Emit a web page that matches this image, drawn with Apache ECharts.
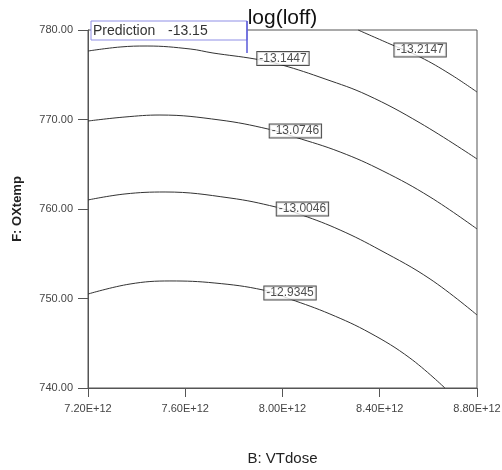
<!DOCTYPE html>
<html>
<head>
<meta charset="utf-8">
<script src="https://cdn.jsdelivr.net/npm/echarts@6/dist/echarts.min.js"></script>
<style>html,body{margin:0;padding:0;background:#fff}#c{width:502px;height:470px}</style>
</head>
<body>
<div id="c"></div>
<script>
// ---- data (x in units of 1E+12) ----
const xTicks = [7.2, 7.6, 8.0, 8.4, 8.8];
const yTicks = [740, 750, 760, 770, 780];
const contourLevels = ['-12.9345', '-13.0046', '-13.0746', '-13.1447', '-13.2147'];
const contour_12_9345 = [[7.200,750.50],[7.373,751.62],[7.537,751.96],[7.722,751.73],[7.920,750.95],[8.031,749.94],[8.195,748.27],[8.360,746.15],[8.524,743.35],[8.668,740.00]];
const contour_13_0046 = [[7.200,761.01],[7.352,761.68],[7.517,761.90],[7.784,761.23],[7.973,760.22],[8.080,759.33],[8.237,757.65],[8.401,755.42],[8.607,752.18],[8.800,748.16]];
const contour_13_0746 = [[7.200,769.83],[7.352,770.28],[7.496,770.50],[7.743,769.94],[7.940,768.94],[8.051,768.04],[8.237,766.37],[8.413,764.25],[8.607,761.34],[8.800,757.77]];
const contour_13_1447 = [[7.200,777.65],[7.332,778.10],[7.443,778.21],[7.620,777.88],[7.714,777.43],[7.887,776.76],[7.998,776.09],[8.175,774.53],[8.348,772.74],[8.566,769.61],[8.800,765.59]];
const contour_13_2147 = [[8.311,780.00],[8.442,778.44],[8.566,776.98],[8.689,775.08],[8.800,773.07]];
const contourLabelAt = [[8.031,750.61],[8.082,760.00],[8.053,768.71],[8.002,776.81],[8.566,777.76]];
const predictionValue = -13.15;
const predictionPoint = [7.854, 777.43];

const contours = [contour_12_9345, contour_13_0046, contour_13_0746, contour_13_1447, contour_13_2147];
const FF = '"Liberation Sans", Arial, sans-serif';

const chart = echarts.init(document.getElementById('c'), null, {renderer: 'canvas'});
const series = contours.map((d, i) => ({
  type: 'line', data: d, smooth: 0.4, symbol: 'none', silent: true,
  lineStyle: {color: '#333', width: 1}, z: 2
}));
series.push({
  type: 'scatter', symbolSize: 0.1, silent: true, z: 5,
  data: contourLabelAt.map((p, i) => ({value: p, name: contourLevels[i]})),
  itemStyle: {color: 'rgba(0,0,0,0)'},
  label: {
    show: true, position: 'inside', formatter: p => p.name,
    fontFamily: FF, fontSize: 12, color: '#222',
    backgroundColor: '#fff', borderColor: '#222', borderWidth: 1,
    padding: [1, 2, 0, 2], lineHeight: 12
  }
});

chart.setOption({
  animation: false,
  backgroundColor: '#fff',
  grid: {left: 88, right: 25, top: 30, bottom: 82, outerBoundsMode: 'none', containLabel: false,
    show: true, borderColor: '#555', borderWidth: 1, backgroundColor: 'transparent'},
  xAxis: {
    type: 'value', min: 7.2, max: 8.8, interval: 0.4,
    name: 'B: VTdose', nameLocation: 'middle', nameGap: 63,
    nameTextStyle: {fontFamily: FF, fontSize: 15, color: '#222'},
    axisLine: {show: true, lineStyle: {color: '#555'}},
    axisTick: {show: true, inside: false, length: 9, lineStyle: {color: '#555'}},
    splitLine: {show: false},
    axisLabel: {margin: 15, fontFamily: FF, fontSize: 11, color: '#444',
      formatter: v => v.toFixed(2) + 'E+12'}
  },
  yAxis: {
    type: 'value', min: 740, max: 780, interval: 10,
    name: 'F: OXtemp', nameLocation: 'middle', nameGap: 64, nameRotate: 90,
    nameTextStyle: {fontFamily: FF, fontSize: 13, fontWeight: 'bold', color: '#222'},
    axisLine: {show: true, lineStyle: {color: '#555'}},
    axisTick: {show: true, inside: false, length: 10, lineStyle: {color: '#555'}},
    splitLine: {show: false},
    axisLabel: {margin: 15, fontFamily: FF, fontSize: 11, color: '#444',
      formatter: v => v.toFixed(2)}
  },
  series: series
});

// title and prediction flag
const pp = chart.convertToPixel({gridIndex: 0}, predictionPoint);
const left = chart.convertToPixel({gridIndex: 0}, [7.2, 780]);
const boxX = left[0] + 3, boxY = left[1] - 9;
chart.setOption({
  graphic: [
    {type: 'text', x: 282.5, y: 18, z: 10,
      style: {text: 'log(loff)', font: '21px ' + FF, fill: '#111', align: 'center', verticalAlign: 'middle'}},
    {type: 'rect', z: 8, shape: {x: boxX, y: boxY, width: pp[0] - boxX, height: 19},
      style: {fill: '#fff', stroke: '#8f8fe6', lineWidth: 1}},
    {type: 'line', z: 9, shape: {x1: pp[0], y1: boxY, x2: pp[0], y2: pp[1]},
      style: {stroke: '#5a5ad8', lineWidth: 1.5}},
    {type: 'text', z: 10, x: boxX + 2, y: boxY + 10,
      style: {text: 'Prediction', font: '14px ' + FF, fill: '#333', verticalAlign: 'middle'}},
    {type: 'text', z: 10, x: boxX + 77, y: boxY + 10,
      style: {text: predictionValue.toFixed(2), font: '14px ' + FF, fill: '#333', verticalAlign: 'middle'}}
  ]
});
</script>
</body>
</html>
